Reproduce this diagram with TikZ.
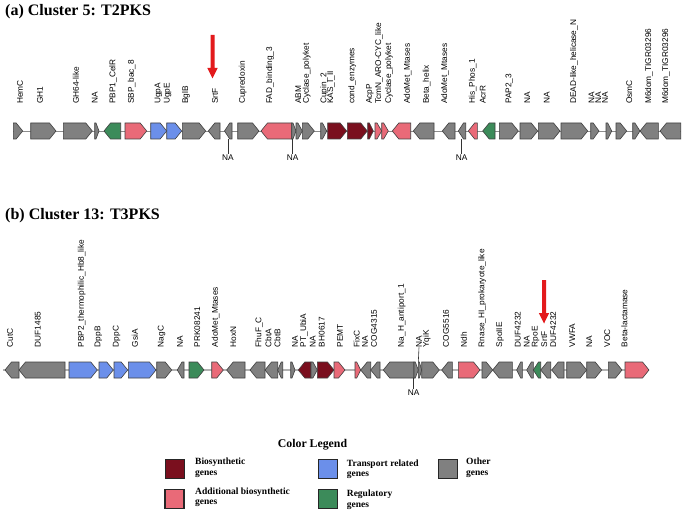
\documentclass[tikz,border=0pt]{standalone}
\usepackage{fontspec}
\setmainfont{Liberation Serif}
\newfontfamily\genefont{Liberation Sans}
\definecolor{cbio}{HTML}{7A0F1E}
\definecolor{cadd}{HTML}{E96A78}
\definecolor{ctra}{HTML}{6B8FEA}
\definecolor{creg}{HTML}{3C8B5A}
\definecolor{coth}{HTML}{808080}
\definecolor{carrow}{HTML}{E31A1C}
\tikzset{
  gene/.style={draw=black!75, line width=0.6pt, line join=miter},
  oth/.style={fill=coth}, bio/.style={fill=cbio}, add/.style={fill=cadd},
  tra/.style={fill=ctra}, reg/.style={fill=creg},
  lbl/.style={rotate=90, anchor=west, inner sep=0pt, font=\genefont\fontsize{8.3}{9}\selectfont},
  nalbl/.style={inner sep=1pt, font=\genefont\fontsize{8.3}{9}\selectfont},
  conn/.style={draw=black!80, line width=0.6pt},
  backbone/.style={draw=black!45, line width=0.8pt},
  backbonetwo/.style={draw=black!30, line width=1.5pt},
  title/.style={anchor=west, inner sep=0pt, font=\bfseries\fontsize{16}{18}\selectfont},
  legbox/.style={draw=black!85, line width=1.2pt, minimum width=19pt, minimum height=19pt, inner sep=0pt},
  legtxt/.style={anchor=west, inner sep=0pt, align=left, font=\bfseries\fontsize{9.5}{10.3}\selectfont},
  redarrow/.style={fill=carrow}
}
\begin{document}
\begin{tikzpicture}[x=1pt,y=-1pt]
\useasboundingbox (0,0) rectangle (685,513);
\fill[white] (0,0) rectangle (685,513);

% titles
\node[title] (ta) at (5,11.5) {(a) Cluster 5: T2PKS};
\node[title] (tb) at (5,216) {(b) Cluster 13: T3PKS};

% ---------- Track 1 ----------
\draw[backbone] (13,131) -- (681,131);
\foreach \t/\p/\c in {13.3/22.7/oth, 30.7/56/oth, 63.3/92.3/oth, 94.7/99/oth, 120.7/104/reg,
  125/146.7/add, 150.7/166.7/tra, 166.7/181.7/tra, 182.3/205.7/oth, 220/208.3/oth, 232/224.5/oth,
  237.7/259/oth, 291.7/261/add, 291.7/296/oth, 296/302.3/oth, 302.3/314.3/oth, 320.7/326.7/oth,
  327.7/346.7/bio, 347.3/367.3/bio, 367.7/373.3/bio, 375/381.7/add, 381.7/388.3/add,
  410.7/392.3/add, 434/413.3/oth, 455/442.3/oth, 465.7/458.3/oth, 477.3/468.3/add, 495/482.7/reg,
  499.3/518.3/oth, 520/537.7/oth, 538.3/560/oth, 561/587.7/oth, 590.7/599/oth, 606/611.7/oth,
  616/626.7/oth, 632.7/640/oth, 658.3/640/oth, 680.7/660/oth}{
  \pgfmathsetmacro\hb{\p-sign(\p-\t)*min(6.5,0.7*abs(\p-\t))}
  \draw[gene,\c] (\t,123) -- (\hb,123) -- (\p,131) -- (\hb,139) -- (\t,139) -- cycle;
}
\foreach \x/\s [count=\i] in {20/HemC, 40/GH1, 76/GH64-like, 94.7/NA, 113.3/PBP1\_CelR,
  131.7/SBP\_bac\_8, 158.3/UgpA, 167.7/UgpE, 186/BglB, 215/SrtF, 242.7/Cupredoxin,
  270/FAD\_binding\_3, 298.3/ABM, 306.7/Cyclase\_polyket, 324.3/Cupin\_2, 331/KAS\_I\_II,
  352.3/cond\_enzymes, 370/AcpP, 379/TcmN\_ARO-CYC\_like, 389/Cyclase\_polyket,
  407.7/AdoMet\_Mtases, 426.7/Beta\_helix, 445/AdoMet\_Mtases, 472.7/His\_Phos\_1, 482.7/AcrR,
  509.3/PAP2\_3, 527.3/NA, 546.7/NA, 574/DEAD-like\_helicase\_N, 591.5/NA, 598.3/NA, 605/NA,
  629.3/OsmC, 649/M6dom\_TIGR03296, 666/M6dom\_TIGR03296}{
  \node[lbl] (a\i) at (\x,104) {\s};
}
% NA connectors below track 1
\node[nalbl] (na1) at (228,158) {NA};
\node[nalbl] (na2) at (292.7,158) {NA};
\node[nalbl] (na3) at (461.7,158) {NA};
\coordinate (g1) at (228,139);
\coordinate (g2) at (292.7,139);
\coordinate (g3) at (461.7,139);
\draw[conn] (g1) -- (na1.north);
\draw[conn] (g2) -- (na2.north);
\draw[conn] (g3) -- (na3.north);
% red arrow 1
\fill[redarrow] (210.5,35) -- (214.5,35) -- (214.5,68) -- (217.7,68) -- (212.5,78.5) -- (207.3,68) -- (210.5,68) -- cycle;

% ---------- Track 2 ----------
\draw[backbonetwo] (3,370) -- (649,370);
\foreach \t/\p/\c in {19/5/oth, 65/19/oth, 69/97.3/tra, 99/113.3/tra, 114/127.7/tra, 128.3/156/tra,
  156.7/171.7/oth, 184/177.3/oth, 189/204/reg, 211.7/223.3/add, 245/226.7/oth, 265/250/oth,
  277.7/265/oth, 282.7/277.7/oth, 290.7/295/oth, 311/298.3/bio, 311/317.3/oth, 317.3/334/bio,
  334/345/add, 355/360.7/add, 370.7/360.7/oth, 380/370.7/oth, 414/383.3/oth, 414/418.3/oth,
  418.3/421.7/oth, 421.7/439.3/oth, 452.3/441.7/oth, 458.3/480/add, 482/492.7/oth,
  512.3/492.7/oth, 522.3/516.7/oth, 533.3/526.7/oth, 540.7/533.3/reg, 550.7/540.7/oth,
  564/551.7/oth, 566.7/586.7/oth, 586.7/601.7/oth, 608.3/622/oth, 625/649/add}{
  \pgfmathsetmacro\hb{\p-sign(\p-\t)*min(6.5,0.7*abs(\p-\t))}
  \draw[gene,\c] (\t,362) -- (\hb,362) -- (\p,370) -- (\hb,378) -- (\t,378) -- cycle;
}
\foreach \x/\s [count=\i] in {10/CutC, 37.7/DUF1485, 81.7/PBP2\_thermophilic\_Hb8\_like,
  98.3/DppB, 116.7/DppC, 135/GsiA, 161.7/NagC, 180/NA, 197.3/PRK08241, 215.7/AdoMet\_Mtases,
  233.3/HoxN, 259.3/FhuF\_C, 268.3/CbtA, 277.3/CbtB, 295/NA, 304/PT\_UbiA, 312.7/NA,
  321.7/BH0617, 340/PEMT, 356.7/FixC, 365/NA, 374/COG4315, 401.7/Na\_H\_antiport\_1, 419/NA,
  426.7/YqiK, 446/COG5516, 464/Ndh, 482.3/Rnase\_HI\_prokaryote\_like, 500/SpoIIE,
  517.7/DUF4232, 526.7/NA, 535.7/RpoE, 544.3/SrtF, 553.3/DUF4232, 572.3/VWFA, 589.3/NA,
  607.3/VOC, 624.3/Beta-lactamase}{
  \node[lbl] (b\i) at (\x,347.3) {\s};
}
% connectors track 2
\coordinate (g4) at (418.3,362);
\draw[conn] (g4) -- (b24.west);
\node[nalbl] (na4) at (413.7,393) {NA};
\coordinate (g5) at (413.7,378);
\draw[conn] (g5) -- (na4.north);
% red arrow 2
\fill[redarrow] (542,280) -- (546,280) -- (546,313) -- (549.2,313) -- (544,323.5) -- (538.8,313) -- (542,313) -- cycle;

% ---------- Legend ----------
\node[font=\bfseries\fontsize{11.8}{13}\selectfont, inner sep=0pt] (lt) at (312.5,445) {Color Legend};
\node[legbox, fill=cbio] (lb1) at (175,468.8) {};
\node[legbox, fill=cadd] (lb2) at (174.5,498.8) {};
\node[legbox, fill=ctra] (lb3) at (328.3,469) {};
\node[legbox, fill=creg] (lb4) at (328.3,499) {};
\node[legbox, fill=coth] (lb5) at (448.3,469) {};
\node[legtxt] (lx1) at (195,467.7) {Biosynthetic\\genes};
\node[legtxt] (lx2) at (195,497.5) {Additional biosynthetic\\genes};
\node[legtxt] (lx3) at (346.7,469) {Transport related\\genes};
\node[legtxt] (lx4) at (346.7,499.7) {Regulatory\\genes};
\node[legtxt] (lx5) at (466,467.8) {Other\\genes};
\end{tikzpicture}
\end{document}
